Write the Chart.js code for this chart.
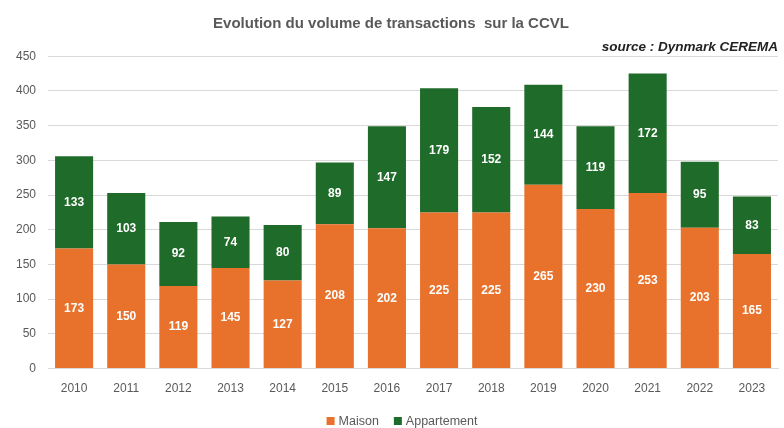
<!DOCTYPE html>
<html><head><meta charset="utf-8">
<script src="https://cdn.jsdelivr.net/npm/chart.js@4/dist/chart.umd.min.js"></script>
<style>html,body{margin:0;padding:0;background:#fff}#w{width:784px;height:428px}</style>
</head><body><div id="w"><canvas id="c"></canvas></div>
<script>
const years = ["2010","2011","2012","2013","2014","2015","2016","2017","2018","2019","2020","2021","2022","2023"];
const maison = [173,150,119,145,127,208,202,225,225,265,230,253,203,165];
const appartement = [133,103,92,74,80,89,147,179,152,144,119,172,95,83];
const yTicks = [0,50,100,150,200,250,300,350,400,450];

const FONT = '"Liberation Sans", Arial, sans-serif';

const labelPlugin = {
  id: 'barLabels',
  afterDatasetsDraw(chart) {
    const ctx = chart.ctx;
    ctx.save();
    ctx.font = 'bold 12px ' + FONT;
    ctx.fillStyle = '#ffffff';
    ctx.textAlign = 'center';
    ctx.textBaseline = 'middle';
    chart.data.datasets.forEach((ds, i) => {
      const meta = chart.getDatasetMeta(i);
      meta.data.forEach((bar, j) => {
        const p = bar.getProps(['x','y','base'], true);
        ctx.fillText(String(ds.data[j]), p.x, (p.y + p.base) / 2);
      });
    });
    ctx.restore();
  }
};

const legendPlugin = {
  id: 'customLegend',
  afterDraw(chart) {
    const ctx = chart.ctx;
    ctx.save();
    ctx.font = '12.5px ' + FONT;
    ctx.textBaseline = 'middle';
    const box = 8, gapText = 4, gapItem = 15;
    const items = chart.data.datasets.map(d => ({ text: d.label, color: d.backgroundColor }));
    const widths = items.map(it => box + gapText + ctx.measureText(it.text).width);
    const total = widths.reduce((a, b) => a + b, 0) + gapItem * (items.length - 1);
    let x = chart.width / 2 + 10 - total / 2;
    const y = 421;
    items.forEach((it, k) => {
      ctx.fillStyle = it.color;
      ctx.fillRect(x, y - box / 2, box, box);
      ctx.fillStyle = '#595959';
      ctx.fillText(it.text, x + box + gapText, y + 0.5);
      x += widths[k] + gapItem;
    });
    ctx.restore();
  }
};

new Chart(document.getElementById('c'), {
  type: 'bar',
  data: {
    labels: years,
    datasets: [
      { label: 'Maison', data: maison, backgroundColor: '#E8722C', categoryPercentage: 1, barPercentage: 0.73 },
      { label: 'Appartement', data: appartement, backgroundColor: '#1F6B29', categoryPercentage: 1, barPercentage: 0.73 }
    ]
  },
  options: {
    responsive: true,
    maintainAspectRatio: false,
    animation: false,
    layout: { padding: { left: 4, right: 6, top: 0, bottom: 27 } },
    plugins: {
      title: {
        display: true,
        text: 'Evolution du volume de transactions  sur la CCVL',
        color: '#595959',
        font: { family: FONT, size: 15, weight: 'bold' },
        padding: { top: 15, bottom: 4 }
      },
      subtitle: {
        display: true,
        text: 'source : Dynmark CEREMA',
        align: 'end',
        color: '#222222',
        font: { family: FONT, size: 13.5, weight: 'bold', style: 'italic' },
        padding: { top: 2, bottom: 1 }
      },
      legend: { display: false },
      tooltip: { enabled: false }
    },
    scales: {
      x: {
        stacked: true,
        grid: { display: false },
        border: { color: '#d9d9d9' },
        ticks: { color: '#595959', font: { family: FONT, size: 12 }, padding: 5 }
      },
      y: {
        stacked: true,
        min: 0, max: 450,
        afterBuildTicks(axis) { axis.ticks = yTicks.map(v => ({ value: v })); },
        grid: { color: '#d9d9d9', drawTicks: false },
        border: { display: false },
        ticks: { color: '#595959', font: { family: FONT, size: 12 }, padding: 12 }
      }
    }
  },
  plugins: [labelPlugin, legendPlugin]
});
</script></body></html>
